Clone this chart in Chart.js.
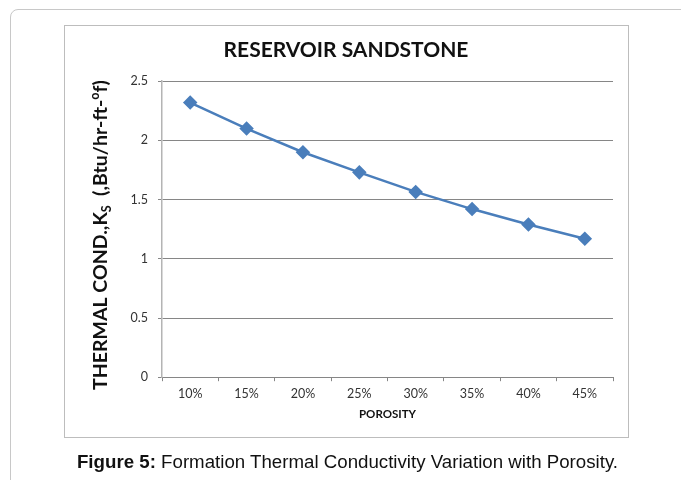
<!DOCTYPE html>
<html>
<head>
<meta charset="utf-8">
<script src="https://cdn.jsdelivr.net/npm/chart.js@4/dist/chart.umd.min.js"></script>
<style>
  html, body { margin: 0; padding: 0; background: #fff; }
  #wrap { position: relative; width: 681px; height: 480px; overflow: hidden; }
  #frame { position: absolute; left: 10px; top: 9px; width: 700px; height: 500px;
           border: 1px solid #c8c8c8; border-radius: 8px; }
  #box { position: absolute; left: 64px; top: 25px; width: 563px; height: 411px;
         border: 1.5px solid #bdbdbd; }
  #chart { position: absolute; left: 0; top: 0; }
  #caption { position: absolute; left: 0; width: 695px; top: 451px; text-align: center;
             font-family: "Liberation Sans", Arial, sans-serif; font-size: 18.7px; color: #111; }
</style>
</head>
<body>
<div id="wrap">
  <div id="frame"></div>
  <div id="box"></div>
  <canvas id="chart" width="681" height="480"></canvas>
  <div id="caption"><b>Figure 5:</b> Formation Thermal Conductivity Variation with Porosity.</div>
</div>
<script>
const porosity = ['10%', '15%', '20%', '25%', '30%', '35%', '40%', '45%'];
const conductivity = [2.32, 2.10, 1.90, 1.73, 1.565, 1.42, 1.29, 1.17];
const yTicks = [0, 0.5, 1, 1.5, 2, 2.5];

const axisGray = '#868686';
const lineBlue = '#4a7ebb';

// y-axis title with subscript S and superscript o
const yTitlePlugin = {
    id: 'yTitle',
    afterDraw(chart) {
        const ctx = chart.ctx;
        const big = 'bold 19.5px Lato';
        const small = 'bold 12.5px Lato';
        const parts = [
            { t: 'THERMAL COND.,K', f: big, dy: 0 },
            { t: 'S', f: small, dy: 4 },
            { t: '  (,Btu/hr-ft-', f: big, dy: 0 },
            { t: 'o', f: small, dy: -8 },
            { t: 'f)', f: big, dy: 0 }
        ];
        let total = 0;
        parts.forEach(p => { ctx.font = p.f; p.w = ctx.measureText(p.t).width; total += p.w; });
        ctx.save();
        ctx.translate(107, 235);
        ctx.rotate(-Math.PI / 2);
        ctx.fillStyle = '#111';
        ctx.textBaseline = 'alphabetic';
        let x = -total / 2;
        parts.forEach(p => {
            ctx.font = p.f;
            ctx.fillText(p.t, x, p.dy);
            x += p.w;
        });
        ctx.restore();
    }
};

const ctx = document.getElementById('chart').getContext('2d');
new Chart(ctx, {
    type: 'line',
    data: {
        labels: porosity,
        datasets: [{
            label: 'Thermal conductivity',
            data: conductivity,
            borderColor: lineBlue,
            backgroundColor: lineBlue,
            borderWidth: 2.5,
            pointStyle: 'rectRot',
            pointRadius: 5.5,
            pointHoverRadius: 5.5,
            tension: 0
        }]
    },
    options: {
        responsive: false,
        animation: false,
        layout: { padding: { left: 79, right: 68, top: 28, bottom: 52 } },
        plugins: {
            legend: { display: false },
            tooltip: { enabled: false },
            title: {
                display: true,
                text: 'RESERVOIR SANDSTONE',
                color: '#111',
                font: { family: 'Lato', size: 21, weight: 'bold' },
                padding: { top: 10, bottom: 18 }
            }
        },
        scales: {
            x: {
                offset: true,
                grid: { offset: true, drawOnChartArea: false, drawTicks: true, tickLength: 4, color: axisGray },
                border: { color: axisGray, width: 1 },
                ticks: { color: '#333', padding: 5, font: { family: 'Lato', size: 12.5 } },
                title: {
                    display: true,
                    text: 'POROSITY',
                    color: '#111',
                    font: { family: 'Lato', size: 11.5, weight: 'bold' },
                    padding: { top: 1, bottom: 7 }
                }
            },
            y: {
                min: 0,
                max: 2.5,
                afterFit(scale) { scale.width = 83; },
                afterBuildTicks(scale) { scale.ticks = yTicks.map(v => ({ value: v })); },
                grid: { color: axisGray, tickLength: 4 },
                border: { color: '#b4b4b4', width: 1.5 },
                ticks: {
                    color: '#333',
                    padding: 10,
                    font: { family: 'Lato', size: 12.5 },
                    callback: v => String(v)
                }
            }
        }
    },
    plugins: [yTitlePlugin]
});
</script>
</body>
</html>
